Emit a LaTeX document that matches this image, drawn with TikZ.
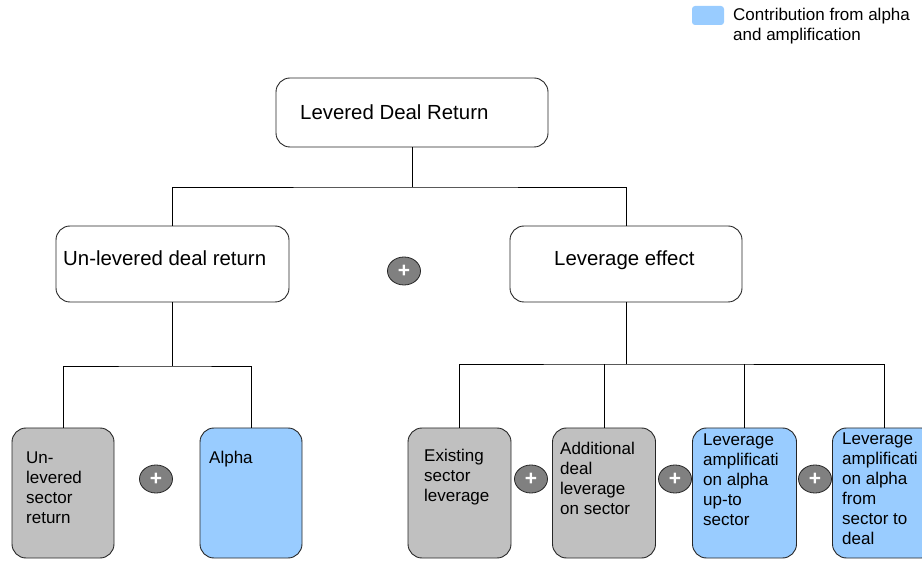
\documentclass[tikz,border=0pt]{standalone}
\usepackage{fontspec}
\setmainfont{Liberation Sans}
\usetikzlibrary{positioning,shapes.geometric}

\definecolor{boxgray}{RGB}{192,192,192}
\definecolor{alphablue}{RGB}{153,204,255}
\definecolor{plusgray}{RGB}{128,128,128}

\begin{document}
\begin{tikzpicture}[x=1pt,y=-1pt,
  card/.style={draw=black!85, line width=0.9pt, rounded corners=14pt, inner sep=0pt},
  wide/.style={card, minimum width=#1, minimum height=76pt},
  tall/.style={card, minimum width=#1, minimum height=130pt},
  big/.style={font=\fontsize{20.4}{24}\selectfont, inner sep=0pt, anchor=base west},
  small/.style={font=\fontsize{17}{20}\selectfont, inner sep=0pt, align=left, anchor=north west},
  plus/.style={ellipse, draw=black!85, line width=0.8pt, fill=plusgray, minimum width=33pt,
    minimum height=28pt, inner sep=0pt, text=white, font=\bfseries\fontsize{21}{21}\selectfont}
]
  \useasboundingbox (0,0) rectangle (922,561);
  \clip (0,0) rectangle (922,561);

  % legend
  \node[draw=none, fill=alphablue, rounded corners=3pt, minimum width=32pt, minimum height=19pt,
    inner sep=0pt] (key) at (708,15.5) {};
  \node[small] (keytext) at (733,7.6) {Contribution from alpha\\and amplification};

  % top level
  \node[card, minimum width=272pt, minimum height=69pt] (ldr) at (412,112.5) {};
  \node[big] (ldr-t) at (300,120) {Levered Deal Return};

  % second level
  \node[wide=233pt] (ulev) at (172.5,264) {};
  \node[big] (ulev-t) at (63,266) {Un-levered deal return};
  \node[wide=232pt] (lev) at (626,264) {};
  \node[big] (lev-t) at (554,266) {Leverage effect};
  \node[plus] (p0) at (404,271) {+};

  % bottom level
  \node[tall=102pt, fill=boxgray] (usec) at (63,493) {};
  \node[tall=102pt, fill=alphablue] (alpha) at (251,493) {};
  \node[tall=103pt, fill=boxgray] (exist) at (459.5,493) {};
  \node[tall=103pt, fill=boxgray] (addl) at (604,493) {};
  \node[tall=104pt, fill=alphablue] (amp1) at (744.5,493) {};
  \node[tall=103pt, fill=alphablue] (amp2) at (884,493) {};

  \node[small] (usec-t) at (26,451.6) {Un-\\levered\\sector\\return};
  \node[small] (alpha-t) at (209,450.6) {Alpha};
  \node[small] (exist-t) at (424,448.6) {Existing\\sector\\leverage};
  \node[small] (addl-t) at (560,441.6) {Additional\\deal\\leverage\\on sector};
  \node[small] (amp1-t) at (703,433.6) {Leverage\\amplificati\\on alpha\\up-to\\sector};
  \node[small] (amp2-t) at (842,432.6) {Leverage\\amplificati\\on alpha\\from\\sector to\\deal};

  \node[plus] (p1) at (156,479) {+};
  \node[plus] (p2) at (531,479) {+};
  \node[plus] (p3) at (675,479) {+};
  \node[plus] (p4) at (815,479) {+};

  % connectors
  \coordinate (topbus) at (412,187);
  \coordinate (leftbus) at (172.5,366);
  \coordinate (rightbus) at (626,364);
  \draw[line width=0.9pt] (ldr.south) -- (topbus);
  \draw[line width=0.9pt] (ulev.north) |- (topbus) -| (lev.north);
  \draw[line width=0.9pt] (ulev.south) -- (leftbus);
  \draw[line width=0.9pt] (usec.north) |- (leftbus) -| (alpha.north);
  \draw[line width=0.9pt] (lev.south) -- (rightbus);
  \draw[line width=0.9pt] (exist.north) |- (rightbus) -| (amp2.north);
  \draw[line width=0.9pt] (addl.north) -- (addl.north |- rightbus);
  \draw[line width=0.9pt] (amp1.north) -- (amp1.north |- rightbus);
\end{tikzpicture}
\end{document}
